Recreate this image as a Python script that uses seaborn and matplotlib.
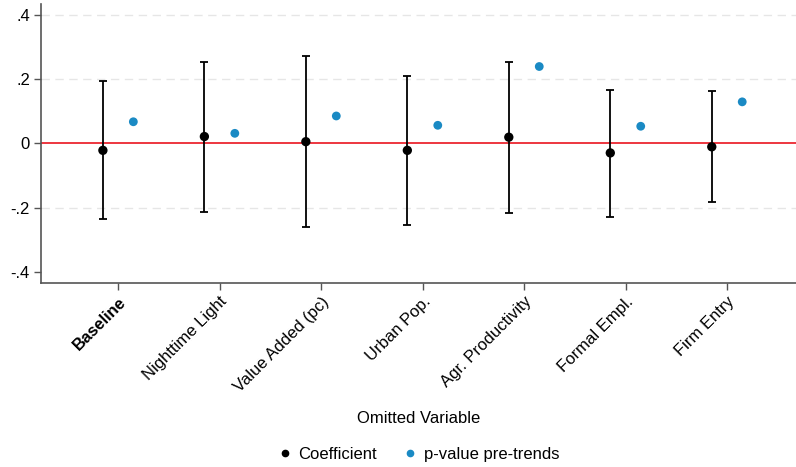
import matplotlib
matplotlib.use("Agg")
import matplotlib.pyplot as plt
import seaborn as sns
import numpy as np
import pandas as pd
from matplotlib.lines import Line2D

# values
categories = ["Baseline", "Nighttime Light", "Value Added (pc)", "Urban Pop.",
              "Agr. Productivity", "Formal Empl.", "Firm Entry"]
coef = [-0.022, 0.021, 0.005, -0.022, 0.019, -0.030, -0.011]
ci_low = [-0.236, -0.213, -0.262, -0.254, -0.216, -0.230, -0.183]
ci_high = [0.194, 0.254, 0.272, 0.209, 0.254, 0.167, 0.163]
pval = [0.067, 0.031, 0.085, 0.056, 0.239, 0.053, 0.129]
yticks = [-0.4, -0.2, 0, 0.2, 0.4]
ytick_labels = ["-.4", "-.2", "0", ".2", ".4"]

sns.set_style("white")
plt.rcParams['font.family'] = ['Liberation Sans', 'DejaVu Sans']
plt.rcParams['text.color'] = 'black'
plt.rcParams['axes.labelcolor'] = 'black'
plt.rcParams['xtick.color'] = 'black'
plt.rcParams['ytick.color'] = 'black'

pos = np.arange(1, len(categories) + 1)
df = pd.DataFrame({"pos": pos, "coef": coef, "lo": ci_low, "hi": ci_high, "p": pval})

fig = plt.figure(figsize=(7.96, 4.67), dpi=100)
ax = fig.add_axes([0.0515, 0.394, 0.9485, 0.597])

blue = "#1a8ac4"
for y in [-0.2, 0.2, 0.4]:
    ax.axhline(y, color="#e6e6e6", lw=1, ls=(0, (6, 4)), zorder=0)
ax.axhline(0, color="#e8000b", lw=1.1, zorder=1)

ax.errorbar(df["pos"] - 0.15, df["coef"],
            yerr=[df["coef"] - df["lo"], df["hi"] - df["coef"]],
            fmt="none", ecolor="black", elinewidth=1.3, capsize=3, capthick=1.3, zorder=2)
sns.scatterplot(x=df["pos"] - 0.15, y=df["coef"], color="black", s=45,
                edgecolor="none", ax=ax, zorder=3)
sns.scatterplot(x=df["pos"] + 0.15, y=df["p"], color=blue, s=40,
                edgecolor="none", ax=ax, zorder=3)

ax.set_xlim(0.24, 7.68)
ax.set_ylim(-0.435, 0.433)
ax.set_yticks(yticks)
ax.set_yticklabels(ytick_labels, fontsize=12)
ax.set_xticks(pos)
ax.set_xticklabels(categories, rotation=45, ha="right", rotation_mode="anchor",
                   fontsize=12)
ax.get_xticklabels()[0].set_fontweight("bold")
ax.tick_params(axis="both", length=5, width=1, color="#555555", labelcolor="black",
               direction="out", bottom=True, left=True, pad=3)
for s in ["top", "right"]:
    ax.spines[s].set_visible(False)
for s in ["left", "bottom"]:
    ax.spines[s].set_color("#555555")
    ax.spines[s].set_linewidth(1.2)

ax.set_xlabel("Omitted Variable", fontsize=12, labelpad=12)
ax.set_ylabel("")

handles = [Line2D([], [], marker="o", ls="", color="black", markersize=4.5),
           Line2D([], [], marker="o", ls="", color=blue, markersize=4.5)]
fig.legend(handles, ["Coefficient", "p-value pre-trends"], loc="center",
           bbox_to_anchor=(0.525, 0.027), ncol=2, frameon=False, fontsize=12,
           handletextpad=0.3, columnspacing=1.5, handlelength=1)

fig.savefig("out.png", dpi=100)
